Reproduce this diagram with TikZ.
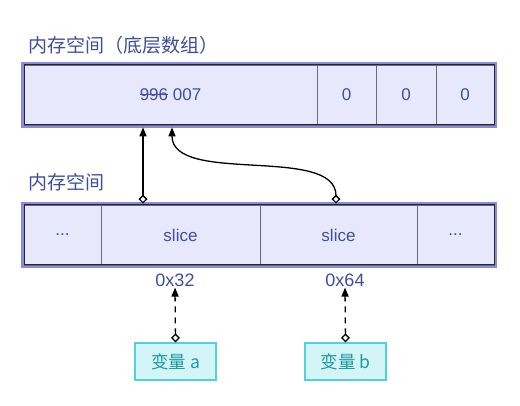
\documentclass[tikz,border=0pt]{standalone}
\usepackage{fontspec}
\setmainfont{Liberation Sans}
\newfontfamily\cjk{Noto Sans CJK SC}
\usetikzlibrary{arrows.meta,calc}
\newsavebox\strikebx
\newcommand\mystrike[1]{\sbox\strikebx{#1}\rlap{\raisebox{0.33em}{\rule{\wd\strikebx}{0.9pt}}}\usebox\strikebx}
\definecolor{txtblue}{HTML}{3F4E9E}
\definecolor{cellfill}{HTML}{E8E8FC}
\definecolor{frameout}{HTML}{8A8AE6}
\definecolor{cellline}{HTML}{6A6A78}
\definecolor{varfill}{HTML}{D4F5F8}
\definecolor{varline}{HTML}{52D0DC}
\definecolor{vartxt}{HTML}{1B9AA0}
\tikzset{
  cell/.style={draw=cellline, line width=0.6pt, fill=cellfill, minimum height=60pt, inner sep=0pt,
    text=txtblue, font=\fontsize{17}{20}\selectfont},
  frameo/.style={draw=frameout, line width=3pt},
  framei/.style={draw=black!85, line width=1pt},
  ttl/.style={text=txtblue, font=\cjk\fontsize{19}{22}\selectfont, anchor=west, inner sep=0pt},
  addr/.style={text=txtblue, font=\fontsize{18}{21}\selectfont, inner sep=1pt},
  varbox/.style={draw=varline, line width=1.2pt, fill=varfill, minimum width=81pt, minimum height=37pt,
    inner sep=0pt, text=vartxt, font=\cjk\fontsize{17.5}{20}\selectfont},
  ptr/.style={line width=1.3pt, {Diamond[open,length=9pt,width=9pt]}-{Triangle[length=9pt,width=7pt]}},
  dptr/.style={ptr, dashed, dash pattern=on 6pt off 5pt}
}
\begin{document}
\begin{tikzpicture}[x=1pt,y=-1pt]
\useasboundingbox[fill=white] (0,0) rectangle (520,406);
% titles
\node[ttl] (title1) at (28,45) {内存空间（底层数组）};
\node[ttl] (title2) at (28,182) {内存空间};
% top array
\draw[frameo] (22.5,63.5) rectangle (495.5,126.5);
\node[cell, minimum width=293pt] (t1) at (170.5,95) {\mystrike{996} 007};
\node[cell, minimum width=59pt] (t2) at (346.5,95) {0};
\node[cell, minimum width=60pt] (t3) at (406,95) {0};
\node[cell, minimum width=58pt] (t4) at (465,95) {0};
\draw[framei] (24,65) rectangle (494,125);
% bottom array
\draw[frameo] (22.5,203.5) rectangle (495.5,266.5);
\node[cell, minimum width=77pt] (b1) at (62.5,235) {...};
\node[cell, minimum width=159pt] (b2) at (180.5,235) {slice};
\node[cell, minimum width=157pt] (b3) at (338.5,235) {slice};
\node[cell, minimum width=77pt] (b4) at (455.5,235) {...};
\draw[framei] (24,205) rectangle (494,265);
% addresses
\node[addr] (a1) at (175,280) {0x32};
\node[addr] (a2) at (345,280) {0x64};
% variables
\node[varbox] (va) at (175.5,361.5) {变量 a};
\node[varbox] (vb) at (345.5,361.5) {变量 b};
% connector end points
\coordinate (p1s) at ([xshift=-37.5pt]b2.north);
\coordinate (p1e) at ([xshift=-27.5pt]t1.south);
\coordinate (p2s) at ([xshift=-2.5pt]b3.north);
\coordinate (p2e) at ([xshift=1.5pt]t1.south);
\draw[ptr] ([yshift=1pt]p1s) -- ([yshift=-2pt]p1e);
\draw[ptr] ([yshift=1pt]p2s) .. controls ([yshift=60pt]p2s) and ([yshift=-60pt]p2e) .. ([yshift=-2pt]p2e);
\draw[dptr] (va.north) -- (a1.south);
\draw[dptr] (vb.north) -- (a2.south);
\end{tikzpicture}
\end{document}
